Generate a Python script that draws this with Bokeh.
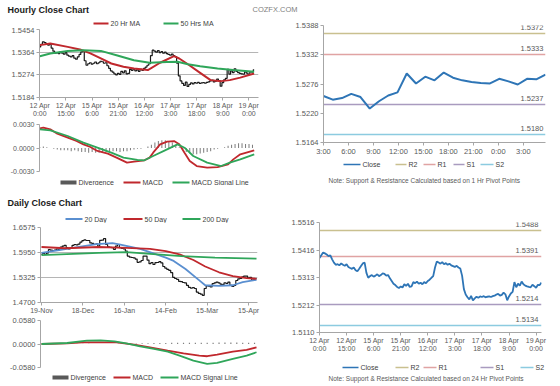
from bokeh.plotting import figure
from bokeh.layouts import column, row
from bokeh.models import Range1d, FixedTicker, Label
from bokeh.embed import file_html
from bokeh.resources import INLINE

FONT = "Liberation Sans"
TXT = "#595959"
AX = "#a6a6a6"
GRID = "#b5b5b5"
RED = "#c0282d"
GREEN = "#2fa65a"
BLUE = "#2e75b6"
DAYBLUE = "#5a8fd0"
R2C = "#c9c08f"
R1C = "#e0a3a3"
S1C = "#a99bbf"
S2C = "#8ccbe0"
DIVC = "#808080"
CANDLE = "#1a1a1a"

# ---------------- hourly data ----------------
hourly_close = [
    1.5385, 1.5395, 1.5405, 1.5402, 1.5398, 1.5392, 1.5395, 1.5380, 1.5368, 1.5360,
    1.5362, 1.5358, 1.5365, 1.5360, 1.5356, 1.5362, 1.5352, 1.5348, 1.5345, 1.5350,
    1.5340, 1.5336, 1.5345, 1.5355, 1.5365, 1.5368, 1.5330, 1.5312, 1.5318, 1.5322,
    1.5316, 1.5320, 1.5325, 1.5318, 1.5322, 1.5328, 1.5326, 1.5320, 1.5322, 1.5310,
    1.5300, 1.5290, 1.5285, 1.5278, 1.5274, 1.5280, 1.5276, 1.5288, 1.5282, 1.5290,
    1.5278, 1.5280, 1.5296, 1.5292, 1.5298, 1.5290, 1.5294, 1.5288, 1.5296, 1.5292,
    1.5300, 1.5305, 1.5312, 1.5318, 1.5350, 1.5372, 1.5368, 1.5364, 1.5370, 1.5362,
    1.5366, 1.5360, 1.5364, 1.5358, 1.5355, 1.5352, 1.5356, 1.5350, 1.5346, 1.5320,
    1.5270, 1.5250, 1.5240, 1.5232, 1.5245, 1.5228, 1.5236, 1.5242, 1.5238, 1.5243,
    1.5241, 1.5244, 1.5240, 1.5242, 1.5243, 1.5241, 1.5244, 1.5246, 1.5250, 1.5253,
    1.5246, 1.5249, 1.5257, 1.5251, 1.5229, 1.5243, 1.5254, 1.5260, 1.5296, 1.5277,
    1.5290, 1.5283, 1.5298, 1.5288, 1.5283, 1.5280, 1.5278, 1.5277, 1.5286, 1.5281,
    1.5275, 1.5286, 1.5285, 1.5294,
]
hourly_ticks = [0, 15, 30, 45, 60, 75, 90, 105, 120]
hourly_labels = ["12 Apr\n0:00", "12 Apr\n15:00", "15 Apr\n6:00", "15 Apr\n21:00",
                 "16 Apr\n12:00", "17 Apr\n3:00", "17 Apr\n18:00", "18 Apr\n9:00", "19 Apr\n0:00"]
hourly_y_ticks = [1.5184, 1.5274, 1.5364, 1.5454]
hourly_y_labels = ["1.5184", "1.5274", "1.5364", "1.5454"]

ma20_x = [0, 6, 16, 23, 29, 35, 41, 48, 54, 62, 69, 77, 80, 85, 92, 98, 104, 109, 115, 123]
ma20_y = [1.5392, 1.5398, 1.5385, 1.5375, 1.5359, 1.5339, 1.5319, 1.5306, 1.5299, 1.5293,
          1.5322, 1.5348, 1.5339, 1.5316, 1.5282, 1.5253, 1.5249, 1.5253, 1.5263, 1.5279]
ma50_x = [0, 6, 16, 25, 35, 44, 54, 63, 73, 79, 85, 92, 102, 111, 123]
ma50_y = [1.5348, 1.5359, 1.5369, 1.5372, 1.5369, 1.5352, 1.5332, 1.5322, 1.5325, 1.5326,
          1.5316, 1.5308, 1.5299, 1.5293, 1.5286]

macd_h_x = [0, 2, 6, 10, 16, 21, 25, 29, 33, 39, 44, 50, 54, 60, 63, 65, 69, 73, 77, 80,
            83, 86, 90, 96, 102, 108, 111, 115, 123]
macd_h_y = [0.00251, 0.00260, 0.00238, 0.00183, 0.00132, 0.00089, 0.00047, 0.00013, -0.00038,
            -0.00072, -0.00123, -0.00187, -0.00174, -0.00157, -0.00123, -0.00060, 0.00047,
            0.00081, 0.00089, 0.00047, -0.00060, -0.00166, -0.00230, -0.00251, -0.00243,
            -0.00208, -0.00145, -0.00081, -0.00030]
sig_h_x = [0, 6, 16, 25, 33, 41, 48, 56, 60, 65, 73, 79, 83, 88, 96, 104, 109, 115, 123]
sig_h_y = [0.00238, 0.00226, 0.00153, 0.00068, 0.00004, -0.00060, -0.00123, -0.00153, -0.00157,
           -0.00102, -0.00017, 0.00047, 0.00004, -0.00102, -0.00187, -0.00230, -0.00187,
           -0.00145, -0.00081]
div_h_x = list(range(0, 124, 2))
div_h_y = [0.0001, 0.0002, 0.0001, 0.0000, -0.0001, -0.0002, -0.0003, -0.0003, -0.0003, -0.0004,
           -0.0003, -0.0004, -0.0005, -0.0005, -0.0006, -0.0005, -0.0006, -0.0006, -0.0005, -0.0005,
           -0.0004, -0.0004, -0.0004, -0.0005, -0.0004, -0.0004, -0.0003, -0.0002, -0.0001, -0.0001,
           0.0000, 0.0002, 0.0004, 0.0007, 0.0009, 0.0010, 0.0010, 0.0009, 0.0007, 0.0004,
           0.0001, -0.0002, -0.0005, -0.0007, -0.0008, -0.0008, -0.0007, -0.0006, -0.0005, -0.0004,
           -0.0002, -0.0001, 0.0000, 0.0001, 0.0003, 0.0004, 0.0005, 0.0006, 0.0006, 0.0005,
           0.0005, 0.0004]
macd_h_ticks = [-0.003, 0.0, 0.003]
macd_h_labels = ["-0.0030", "0.0000", "0.0030"]

# 1 hr pivot chart (last 25 hourly closes)
pivot_h_close = hourly_close[-25:]
pivot_h_ticks = [0, 2.7, 5.4, 8.1, 10.8, 13.5, 16.2, 18.9, 21.6]
pivot_h_labels = ["3:00", "6:00", "9:00", "12:00", "15:00", "18:00", "21:00", "0:00", "3:00"]
pivot_h_y_ticks = [1.5164, 1.5220, 1.5276, 1.5332, 1.5388]
pivot_h_y_labels = ["1.5164", "1.5220", "1.5276", "1.5332", "1.5388"]
pivot_names = ["R2", "R1", "S1", "S2"]
pivot_h_levels = [1.5372, 1.5333, 1.5237, 1.5180]

# ---------------- daily data ----------------
daily_close = [
    1.5905, 1.5930, 1.5905, 1.5935, 1.6020, 1.6010, 1.6000, 1.6010, 1.6035, 1.6030,
    1.6085, 1.6110, 1.6130, 1.6070, 1.6040, 1.6060, 1.6130, 1.6150, 1.6140, 1.6160,
    1.6210, 1.6245, 1.6265, 1.6250, 1.6250, 1.6190, 1.6180, 1.6150, 1.6165, 1.6110,
    1.6255, 1.6260, 1.6300, 1.6150, 1.6090, 1.6080, 1.6070, 1.6030, 1.6110, 1.6150,
    1.6070, 1.6050, 1.6040, 1.5985, 1.5860, 1.5835, 1.5825, 1.5815, 1.5785, 1.5705,
    1.5715, 1.5750, 1.5860, 1.5860, 1.5760, 1.5670, 1.5700, 1.5650, 1.5695, 1.5700,
    1.5720, 1.5690, 1.5600, 1.5560, 1.5530, 1.5505, 1.5445, 1.5330, 1.5300, 1.5280,
    1.5230, 1.5220, 1.5200, 1.5190, 1.5130, 1.5080, 1.5060, 1.5070, 1.5050, 1.4960,
    1.4930, 1.4910, 1.4880, 1.5050, 1.5115, 1.5110, 1.5090, 1.5170, 1.5190, 1.5210,
    1.5190, 1.5160, 1.5140, 1.5190, 1.5180, 1.5210, 1.5130, 1.5100, 1.5130, 1.5250,
    1.5290, 1.5300, 1.5340, 1.5360, 1.5360, 1.5315, 1.5330, 1.5260, 1.5270, 1.5300,
]
daily_ticks = [0, 21, 42, 63, 84, 105]
daily_labels = ["19-Nov", "18-Dec", "16-Jan", "14-Feb", "15-Mar", "15-Apr"]
daily_y_ticks = [1.4700, 1.5325, 1.5950, 1.6575]
daily_y_labels = ["1.4700", "1.5325", "1.5950", "1.6575"]

d20_x = [0, 9, 19, 28, 36, 40, 50, 56, 63, 67, 73, 80, 83, 90, 97, 102, 109]
d20_y = [1.5942, 1.6007, 1.6088, 1.6161, 1.6185, 1.6145, 1.6039, 1.5942, 1.5820, 1.5739,
         1.5536, 1.5253, 1.5131, 1.5115, 1.5131, 1.5212, 1.5269]
d50_x = [0, 12, 29, 43, 55, 63, 70, 77, 83, 90, 97, 104, 109]
d50_y = [1.6088, 1.6056, 1.6088, 1.6064, 1.6039, 1.5982, 1.5901, 1.5763, 1.5601, 1.5456,
         1.5358, 1.5310, 1.5293]
d200_x = [0, 29, 43, 55, 71, 88, 109]
d200_y = [1.5885, 1.5942, 1.5958, 1.5918, 1.5861, 1.5820, 1.5796]

macd_d_x = [0, 13, 21, 30, 38, 47, 55, 64, 72, 80, 84, 89, 97, 104, 109]
macd_d_y = [0.0000, 0.0016, 0.0041, 0.0041, 0.0041, -0.0016, -0.0082, -0.0163, -0.0229,
            -0.0286, -0.0302, -0.0261, -0.0188, -0.0147, -0.0082]
sig_d_x = [0, 13, 23, 30, 37, 43, 50, 57, 64, 70, 77, 84, 89, 97, 104, 109]
sig_d_y = [0.0000, 0.0025, 0.0082, 0.0090, 0.0065, 0.0016, -0.0057, -0.0123, -0.0188,
           -0.0286, -0.0409, -0.0490, -0.0466, -0.0368, -0.0286, -0.0204]
div_d_x = list(range(0, 110, 3))
div_d_y = [0.0002, 0.0003, 0.0004, 0.0005, 0.0006, 0.0006, 0.0006, 0.0005, 0.0004, 0.0003,
           0.0002, 0.0001, 0.0002, 0.0004, 0.0008, 0.0012, 0.0015, 0.0018, 0.0020, 0.0022,
           0.0024, 0.0026, 0.0028, 0.0030, 0.0032, 0.0032, 0.0030, 0.0028, 0.0030, 0.0032,
           0.0034, 0.0036, 0.0036, 0.0034, 0.0032, 0.0030, 0.0028]
macd_d_ticks = [-0.058, 0.0, 0.058]
macd_d_labels = ["-0.0580", "0.0000", "0.0580"]

# 24 hr pivot chart (hourly closes)
pivot_d_close = hourly_close
pivot_d_y_ticks = [1.5110, 1.52115, 1.5313, 1.54145, 1.5516]
pivot_d_y_labels = ["1.5110", "1.5212", "1.5313", "1.5416", "1.5516"]
pivot_d_levels = [1.5488, 1.5391, 1.5214, 1.5134]

pivot_colors = [R2C, R1C, S1C, S2C]


# ---------------- helpers ----------------
def chart(w, h, left, right, top, bottom, xr, yr, xaxis=True):
    p = figure(width=w, height=h, x_range=Range1d(*xr), y_range=Range1d(*yr),
               min_border_left=left, min_border_right=right,
               min_border_top=top, min_border_bottom=bottom,
               output_backend="svg", toolbar_location=None, tools="",
               x_axis_location="below" if xaxis else None)
    p.frame_align = False
    p.outline_line_color = None
    p.border_fill_color = "white"
    p.background_fill_color = "white"
    p.xgrid.visible = False
    for ax in p.axis:
        ax.axis_line_color = AX
        ax.major_tick_line_color = AX
        ax.minor_tick_line_color = None
        ax.major_tick_out = 3
        ax.major_tick_in = 0
        ax.major_label_text_font = FONT
        ax.major_label_text_font_size = "7.5px"
        ax.major_label_text_color = TXT
        ax.major_label_standoff = 2
    return p


def set_y(p, ticks, labels, grid=None):
    p.yaxis.ticker = FixedTicker(ticks=ticks)
    p.yaxis.major_label_overrides = dict(zip(ticks, labels))
    if grid is None:
        p.ygrid.visible = False
    else:
        p.ygrid.ticker = FixedTicker(ticks=grid)
        p.ygrid.grid_line_color = GRID


def set_x(p, ticks, labels, size="7px"):
    p.xaxis.ticker = FixedTicker(ticks=ticks)
    p.xaxis.major_label_overrides = dict(zip(ticks, labels))
    p.xaxis.major_label_text_font_size = size
    p.xaxis.major_label_standoff = 1


def label(p, x, y, s, size="7px", color=TXT, bold=False, xunits="data", yoff=0):
    p.add_layout(Label(x=x, y=y, x_units=xunits, y_units="data", text=s, text_font=FONT,
                       text_font_size=size, text_color=color, text_align="left",
                       text_baseline="middle", text_font_style="bold" if bold else "normal",
                       y_offset=yoff))


def strip(w, h, fill="white"):
    # blank panel whose data units are pixels (x from its left, y from its bottom)
    p = figure(width=w, height=h, x_range=Range1d(0, w), y_range=Range1d(0, h),
               min_border=0, output_backend="svg", toolbar_location=None, tools="",
               x_axis_location=None, y_axis_location=None)
    p.frame_align = False
    p.outline_line_color = None
    p.background_fill_color = fill
    p.border_fill_color = fill
    p.grid.visible = False
    return p


def key(p, yc, entries, lw=2):
    # entries: (text, kind, colour, swatch start, swatch end) in panel pixels
    for txt, kind, color, xa, xb in entries:
        if kind == "bar":
            p.quad(left=[xa], right=[xb], bottom=[yc - 2], top=[yc + 2],
                   fill_color=color, line_color=None)
        else:
            p.segment(x0=[xa], y0=[yc], x1=[xb], y1=[yc], line_color=color, line_width=lw)
        label(p, xb + 2, yc, txt, color="#404040")


# ---------------- header ----------------
header = strip(560, 17)
label(header, 7, 8, "Hourly Close Chart", size="9px", color="#1a1a1a", bold=True)
label(header, 252, 8, "COZFX.COM", size="7.5px", color="#808080")

# ---------------- Fig A: hourly close ----------------
legA = strip(280, 10)
key(legA, 6, [("20 Hr MA", "line", RED, 93, 108), ("50 Hrs MA", "line", GREEN, 163, 178)])
fa = chart(280, 92, 39, 22, 2, 22, (-0.2, 125.5), (1.5184, 1.5454))
fa.step(list(range(len(hourly_close))), hourly_close, mode="center", line_color=CANDLE, line_width=1.2)
fa.line(ma20_x, ma20_y, line_color=RED, line_width=2)
fa.line(ma50_x, ma50_y, line_color=GREEN, line_width=2)
set_y(fa, hourly_y_ticks, hourly_y_labels, grid=hourly_y_ticks[1:])
set_x(fa, hourly_ticks, hourly_labels)

# ---------------- Fig B: hourly MACD ----------------
fb = chart(280, 56, 39, 24, 5, 4, (-0.2, 124.3), (-0.003, 0.003), xaxis=False)
fb.vbar(x=div_h_x, top=div_h_y, bottom=0, width=0.6, fill_color=DIVC, line_color=None)
fb.line(macd_h_x, macd_h_y, line_color=RED, line_width=1.8)
fb.line(sig_h_x, sig_h_y, line_color=GREEN, line_width=1.8)
set_y(fb, macd_h_ticks, macd_h_labels, grid=[0.003])
fb.yaxis.major_label_text_font_size = "7px"
legB = strip(280, 10)
key(legB, 5, [("Divergence", "bar", "#595959", 60, 76), ("MACD", "line", RED, 123, 140),
              ("MACD Signal Line", "line", GREEN, 172, 189)])
padB = strip(280, 5)

# ---------------- Fig C: 1 hr pivots ----------------
fc = chart(280, 141, 43, 15, 8, 14, (0, 24), (1.5164, 1.5388))
for lv, c in zip(pivot_h_levels, pivot_colors):
    fc.hspan(y=[lv], line_color=c, line_width=1.5)
fc.line(list(range(len(pivot_h_close))), pivot_h_close, line_color=BLUE, line_width=2)
set_y(fc, pivot_h_y_ticks, pivot_h_y_labels)
set_x(fc, pivot_h_ticks, pivot_h_labels, size="7.5px")
for lv in pivot_h_levels:
    label(fc, 197, lv, f"{lv:.4f}", size="7.5px", xunits="screen", yoff=6)
stripC = strip(280, 32)
key(stripC, 26, [("Close", "line", BLUE, 63, 80)] +
    [(n, "line", c, a, b) for n, c, (a, b) in
     zip(pivot_names, pivot_colors, [(115, 126), (143, 155), (173, 184), (200, 213)])], lw=1.6)
label(stripC, 48, 10, "Note: Support & Resistance Calculated based on 1 Hr Pivot Points", size="6.5px")

# ---------------- separator ----------------
sep1 = strip(560, 2, fill="#a6a6a6")

# ---------------- Fig D: daily close ----------------
stripD = strip(280, 31)
label(stripD, 7, 21, "Daily Close Chart", size="9px", color="#1a1a1a", bold=True)
key(stripD, 4.5, [("20 Day", "line", DAYBLUE, 65, 82), ("50 Day", "line", RED, 123, 142),
                  ("200 Day", "line", GREEN, 182, 200)])
fd = chart(280, 93, 40, 23, 4, 12, (-0.5, 109.5), (1.47, 1.6575))
fd.step(list(range(len(daily_close))), daily_close, mode="center", line_color=CANDLE, line_width=1.2)
fd.line(d20_x, d20_y, line_color=DAYBLUE, line_width=1.8)
fd.line(d50_x, d50_y, line_color=RED, line_width=1.8)
fd.line(d200_x, d200_y, line_color=GREEN, line_width=1.8)
set_y(fd, daily_y_ticks, daily_y_labels, grid=daily_y_ticks[1:])
set_x(fd, daily_ticks, daily_labels)

# ---------------- Fig E: daily MACD ----------------
fe = chart(280, 55, 40, 23, 4, 4, (-0.5, 109.5), (-0.058, 0.058), xaxis=False)
fe.vbar(x=div_d_x, top=div_d_y, bottom=0, width=0.6, fill_color=DIVC, line_color=None)
fe.line(macd_d_x, macd_d_y, line_color=RED, line_width=1.8)
fe.line(sig_d_x, sig_d_y, line_color=GREEN, line_width=1.8)
set_y(fe, macd_d_ticks, macd_d_labels, grid=[0.058])
legE = strip(280, 13)
key(legE, 7, [("Divergence", "bar", "#595959", 52, 68), ("MACD", "line", RED, 113, 130),
              ("MACD Signal Line", "line", GREEN, 160, 178)])

# ---------------- Fig F: 24 hr pivots ----------------
ff = chart(280, 162, 39, 19, 30, 21, (0, 123), (1.5110, 1.5516))
for lv, c in zip(pivot_d_levels, pivot_colors):
    ff.hspan(y=[lv], line_color=c, line_width=1.5)
ff.line(list(range(len(pivot_d_close))), pivot_d_close, line_color=BLUE, line_width=1.8)
set_y(ff, pivot_d_y_ticks, pivot_d_y_labels)
set_x(ff, hourly_ticks, hourly_labels)
for lv in pivot_d_levels:
    label(ff, 196, lv, f"{lv:.4f}", size="7.5px", xunits="screen", yoff=6)
stripF = strip(280, 30)
key(stripF, 17, [("Close", "line", BLUE, 62, 78)] +
    [(n, "line", c, a, b) for n, c, (a, b) in
     zip(pivot_names, pivot_colors, [(115, 128), (143, 156), (200, 213), (240, 253)])], lw=1.6)
label(stripF, 48, 6, "Note: Support & Resistance Calculated based on 24 Hr Pivot Points", size="6.5px")

sep2 = strip(560, 2, fill="#a6a6a6")

root = column(
    header,
    row(column(legA, fa, fb, legB, padB), column(fc, stripC)),
    sep1,
    row(column(stripD, fd, fe, legE), column(ff, stripF)),
    sep2,
)

open("out.html", "w").write(file_html(root, INLINE))
